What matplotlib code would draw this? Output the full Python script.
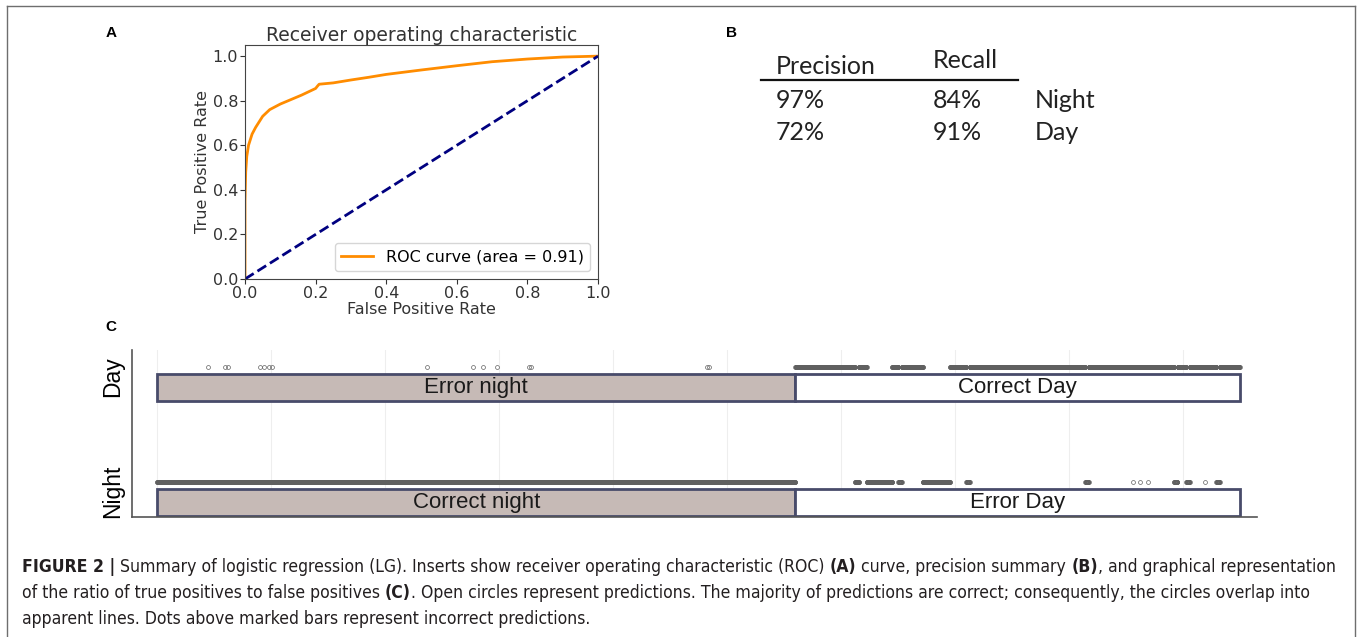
import numpy as np
import matplotlib
matplotlib.use("Agg")
import matplotlib.pyplot as plt
from matplotlib import font_manager
from matplotlib.lines import Line2D

# ---------------- data ----------------
# (A) ROC curve
fpr = [0.0, 0.0, 0.002, 0.005, 0.01, 0.02, 0.03, 0.05, 0.07, 0.1, 0.13, 0.16,
       0.2, 0.205, 0.21, 0.25, 0.3, 0.35, 0.4, 0.5, 0.6, 0.7, 0.8, 0.9, 1.0]
tpr = [0.0, 0.35, 0.48, 0.55, 0.6, 0.65, 0.68, 0.73, 0.76, 0.785, 0.805, 0.825,
       0.855, 0.865, 0.874, 0.88, 0.893, 0.905, 0.918, 0.938, 0.957, 0.975,
       0.987, 0.996, 1.0]

# (B) precision / recall summary
pr_columns = ["Precision", "Recall"]
pr_classes = ["Night", "Day"]
precision = [97, 72]
recall = [84, 91]

# (C) predictions per sample index
n_night = 2800          # samples 0 .. n_night-1 are night
n_total = 4750          # samples n_night .. n_total-1 are day
rows = ["Night", "Day"]
# night samples predicted as Day
night_pred_day = [224, 296, 310, 452, 468, 492, 505, 1184, 1386, 1430, 1491,
                  1630, 1642, 2412, 2423]
# day samples predicted as Night (inclusive index ranges)
day_pred_night = [(3062, 3078), (3114, 3224), (3252, 3266), (3360, 3478),
                  (3550, 3564), (4072, 4086), (4281, 4281), (4311, 4311),
                  (4347, 4347), (4462, 4476), (4515, 4529), (4597, 4597),
                  (4647, 4661)]
bar_labels = {"Night": ["Correct night", "Error Day"],
              "Day": ["Error night", "Correct Day"]}

caption_lines = [
    [("FIGURE 2 |", True),
     (" Summary of logistic regression (LG). Inserts show receiver operating characteristic (ROC) ", False),
     ("(A)", True), (" curve, precision summary ", False), ("(B)", True),
     (", and graphical representation", False)],
    [("of the ratio of true positives to false positives ", False), ("(C)", True),
     (". Open circles represent predictions. The majority of predictions are correct; consequently, the circles overlap into", False)],
    [("apparent lines. Dots above marked bars represent incorrect predictions.", False)],
]

# ---------------- figure ----------------
W, H = 1357, 637
fig = plt.figure(figsize=(W / 100, H / 100), dpi=100)
fig.patch.set_facecolor("white")


def fx(px):
    return px / W


def fy(py):
    return 1 - py / H


available = {f.name for f in font_manager.fontManager.ttflist}
arial = "Liberation Sans"
calibri_like = "Lato" if "Lato" in available else "DejaVu Sans"

# outer frame
fig.add_artist(Line2D([fx(7), fx(7)], [0, fy(6)], color="#6e6e6e", lw=1.0))
fig.add_artist(Line2D([fx(7), fx(1355)], [fy(6), fy(6)], color="#6e6e6e", lw=1.0))
fig.add_artist(Line2D([fx(1355), fx(1355)], [0, fy(6)], color="#6e6e6e", lw=1.0))

# panel letters
for letter, (px, py) in {"A": (111, 33), "B": (731, 33), "C": (111, 327)}.items():
    fig.text(fx(px), fy(py), letter, family=arial, weight="bold", fontsize=11,
             ha="center", va="center", color="black")

# ---------------- (A) ROC ----------------
axA = fig.add_axes([fx(245), fy(279), fx(598 - 245), (279 - 45) / H])
auc = np.trapezoid(tpr, fpr)
axA.plot(fpr, tpr, color="darkorange", lw=2, label=f"ROC curve (area = {auc:0.2f})")
axA.plot([0, 1], [0, 1], color="navy", lw=2, linestyle="--")
axA.set_xlim(0.0, 1.0)
axA.set_ylim(0.0, 1.05)
axA.set_xlabel("False Positive Rate", fontsize=11.5, labelpad=1, color="#333333")
axA.set_ylabel("True Positive Rate", fontsize=11.5, labelpad=2, color="#333333")
axA.set_title("Receiver operating characteristic", fontsize=13.5, pad=3, color="#333333")
axA.tick_params(labelsize=11.5, colors="#333333", length=3.5, pad=1.5)
for sp in axA.spines.values():
    sp.set_color("#444444")
axA.legend(loc="lower right", fontsize=11.5, handlelength=2.0)

# ---------------- (B) precision / recall ----------------
tcol = "#222222"
bsize = 18
fig.text(fx(776), fy(66), pr_columns[0], family=calibri_like, fontsize=bsize, ha="left", va="center", color=tcol)
fig.text(fx(933), fy(61), pr_columns[1], family=calibri_like, fontsize=bsize, ha="left", va="center", color=tcol)
fig.add_artist(Line2D([fx(761), fx(1018)], [fy(80), fy(80)], color="#111111", lw=1.6))
for i, cls in enumerate(pr_classes):
    yy = fy(100 + 33 * i)
    fig.text(fx(776), yy, f"{precision[i]}%", family=calibri_like, fontsize=bsize, ha="left", va="center", color=tcol)
    fig.text(fx(933), yy, f"{recall[i]}%", family=calibri_like, fontsize=bsize, ha="left", va="center", color=tcol)
    fig.text(fx(1035), yy, cls, family=calibri_like, fontsize=bsize, ha="left", va="center", color=tcol)

# ---------------- (C) prediction strip ----------------
axC = fig.add_axes([fx(132), fy(517), fx(1257 - 132), (517 - 350) / H])
axC.set_xlim(-110, 4825)
axC.set_ylim(-0.304, 1.148)

night_idx = np.arange(0, n_night)
day_idx = np.arange(n_night, n_total)
wrong_night = np.array(night_pred_day)
wrong_day = np.concatenate([np.arange(a, b + 1) for a, b in day_pred_night])

pred_night = np.concatenate([np.setdiff1d(night_idx, wrong_night), wrong_day])
pred_day = np.concatenate([wrong_night, np.setdiff1d(day_idx, wrong_day)])
preds = {"Night": pred_night, "Day": pred_day}

bar_off, bar_h = -0.18, 0.235
fills = ["#c6bab6", "white"]
for r, name in enumerate(rows):
    spans = [(0, n_night), (n_night, n_total)]
    for k, (a, b) in enumerate(spans):
        axC.barh(r + bar_off, b - a, left=a, height=bar_h, color=fills[k],
                 edgecolor="#484b6a", linewidth=2, zorder=2)
        axC.text((a + b) / 2, r + bar_off, bar_labels[name][k], family=arial,
                 fontsize=16, ha="center", va="center", color="#1a1a1a", zorder=4)
    xs = preds[name]
    axC.plot(xs, np.full(len(xs), r), linestyle="none", marker="o", markersize=2.8,
             markerfacecolor="none", markeredgecolor="#606060", markeredgewidth=0.5,
             zorder=3)

axC.set_xticks(np.arange(0, n_total, 500))
axC.set_xticklabels([])
axC.grid(axis="x", color="#eeeeee", lw=0.8, zorder=0)
axC.set_axisbelow(True)
axC.set_yticks([r - 0.08 for r in range(len(rows))])
axC.set_yticklabels(rows, rotation=90, va="center", family=arial, fontsize=16.5)
axC.tick_params(length=0, pad=6)
for s in ("top", "right"):
    axC.spines[s].set_visible(False)
for s in ("left", "bottom"):
    axC.spines[s].set_color("#555555")
    axC.spines[s].set_linewidth(1.2)

# ---------------- caption ----------------
renderer = fig.canvas.get_renderer()
cap_font = dict(family="DejaVu Sans", stretch="condensed")
cap_color = "#231f20"


def draw_line(runs, y, size):
    x = fx(22)
    for text, bold in runs:
        t = fig.text(x, y, text, weight="bold" if bold else "normal",
                     fontsize=size, ha="left", va="center", color=cap_color, **cap_font)
        bb = t.get_window_extent(renderer)
        x += bb.width / W
    return x * W - 22


# size the caption so its first line spans the page width
probe = []
for text, bold in caption_lines[0]:
    probe.append(fig.text(0, 0, text, weight="bold" if bold else "normal",
                          fontsize=12, **cap_font))
w0 = sum(t.get_window_extent(renderer).width for t in probe)
for t in probe:
    t.remove()
cap_size = 12 * (1318 / w0)

for i, runs in enumerate(caption_lines):
    draw_line(runs, fy(567 + 26 * i), cap_size)

fig.savefig("out.png", dpi=100, facecolor="white")
